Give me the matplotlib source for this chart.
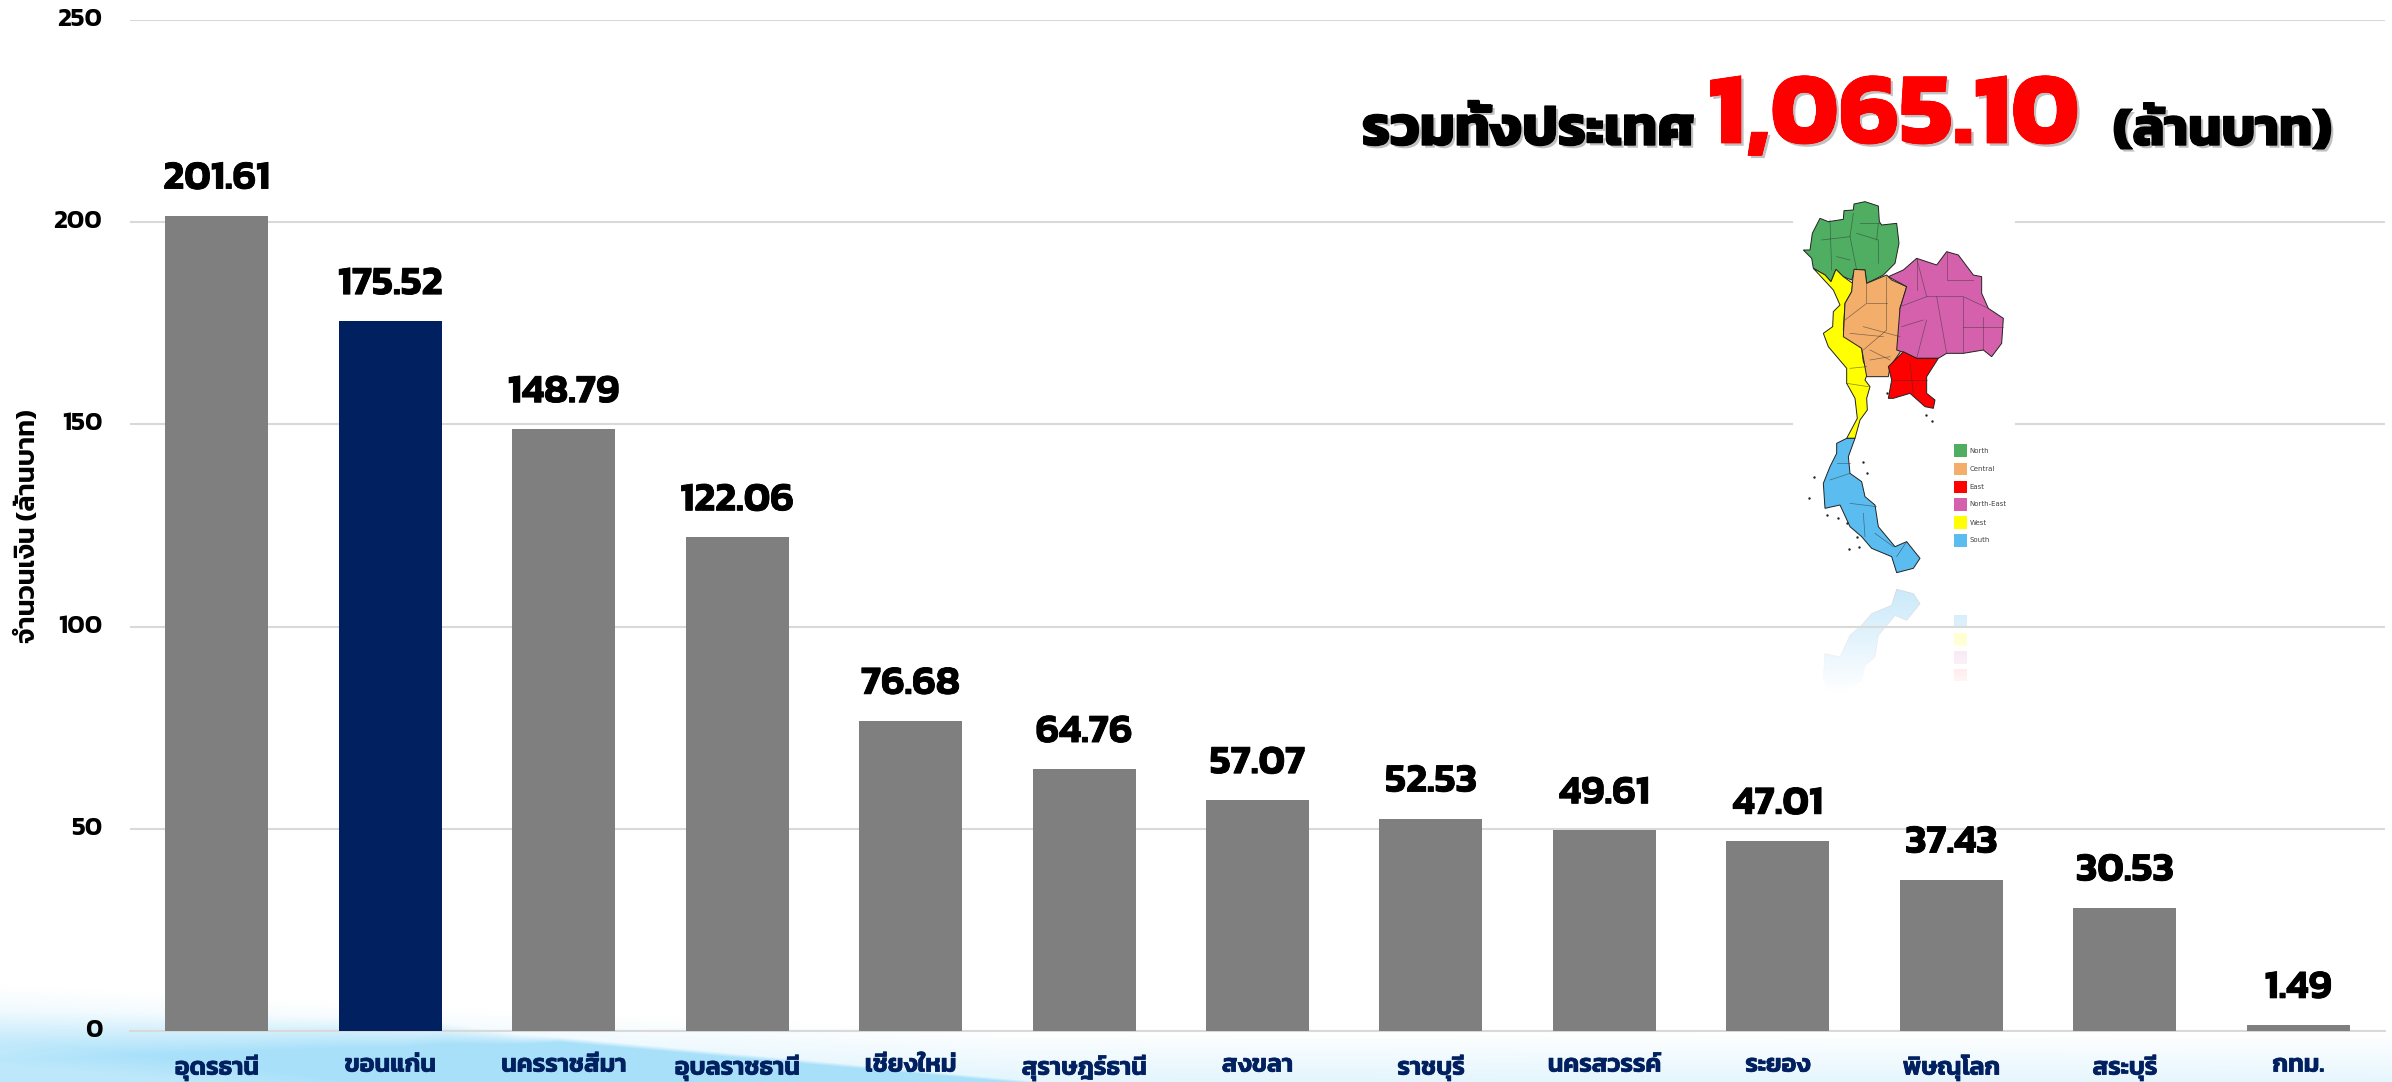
import numpy as np
import matplotlib
matplotlib.use("Agg")
import matplotlib.pyplot as plt
import matplotlib.patheffects as pe
from matplotlib.patches import FancyBboxPatch, Polygon, Rectangle
from matplotlib.transforms import ScaledTranslation

plt.rcParams["font.family"] = ["Kanit", "DejaVu Sans"]

# Chart data: disbursement by province, million baht
provinces = ["อุดรธานี", "ขอนแก่น", "นครราชสีมา", "อุบลราชธานี", "เชียงใหม่", "สุราษฎร์ธานี",
             "สงขลา", "ราชบุรี", "นครสวรรค์", "ระยอง", "พิษณุโลก", "สระบุรี", "กทม."]
amounts = [201.61, 175.52, 148.79, 122.06, 76.68, 64.76, 57.07, 52.53, 49.61, 47.01, 37.43, 30.53, 1.49]
value_labels = ["201.61", "175.52", "148.79", "122.06", "76.68", "64.76", "57.07",
                "52.53", "49.61", "47.01", "37.43", "30.53", "1.49"]
y_ticks = [0, 50, 100, 150, 200, 250]
highlighted = "ขอนแก่น"
y_title = "จำนวนเงิน (ล้านบาท)"
total_prefix = "รวมทั้งประเทศ"
total_value = "1,065.10"
total_unit = "(ล้านบาท)"

W, H = 2392, 1082
GREY, NAVY = "#7f7f7f", "#002060"

fig = plt.figure(figsize=(W / 100, H / 100), dpi=100, facecolor="white")


def px_axes(zorder):
    a = fig.add_axes([0, 0, 1, 1], zorder=zorder)
    a.set_xlim(0, W)
    a.set_ylim(H, 0)
    a.axis("off")
    a.patch.set_visible(False)
    return a


# Page backdrop: pale blue swooshes along the bottom edge
bg = px_axes(0)
xx, yy = np.meshgrid(np.arange(W), np.arange(H))


def band(xs, ys, soft_xs, soft):
    edge = np.interp(xx, xs, ys)
    width = np.interp(xx, soft_xs, soft)
    return np.clip((yy - edge) / width, 0, 1)


pale = 0.30 * band([0, 500, 1000, 2392], [985, 1010, 1030, 1034], [0, 2392], [45, 50])
wedge = band([0, 333, 443, 520, 1040, 1060], [1000, 1013, 1020, 1032, 1080, 1084],
             [0, 400, 560, 1060], [60, 30, 6, 4])
tint = np.maximum(pale, wedge)
streak = 0.25 * band([0, 220, 420], [1040, 1062, 1090], [0, 420], [24, 24])
tint = np.clip(tint - streak, 0, 1)
sky = np.array([0.66, 0.88, 0.98])
img = 1 - tint[..., None] * (1 - sky)
bg.imshow(img, extent=(0, W, H, 0), aspect="auto", zorder=0, interpolation="bilinear")
bg.set_xlim(0, W)
bg.set_ylim(H, 0)

# Bars, gridlines and axis labels
ax = fig.add_axes([130 / W, 1 - 1031 / H, (2385 - 130) / W, (1031 - 20) / H], zorder=1)
ax.patch.set_visible(False)
positions = np.arange(len(provinces))
colors = [NAVY if p == highlighted else GREY for p in provinces]
ax.bar(positions, amounts, width=0.594, color=colors, zorder=3)
ax.set_xlim(-0.5, len(provinces) - 0.5)
ax.set_ylim(0, 250)
ax.set_yticks(y_ticks)
ax.set_xticks(positions, provinces)
ax.grid(axis="y", color="#d9d9d9", lw=1.5, zorder=0)
ax.set_axisbelow(True)
for s in ["top", "right", "left"]:
    ax.spines[s].set_visible(False)
ax.spines["bottom"].set_color("#d9d9d9")
ax.spines["bottom"].set_linewidth(1.5)
ax.tick_params(axis="both", length=0)
ax.tick_params(axis="y", pad=20)
ax.tick_params(axis="x", pad=17)
nudge_up = ScaledTranslation(0, 3 / 100, fig.dpi_scale_trans)
for t in ax.get_yticklabels():
    t.set_fontsize(19)
    t.set_fontweight(600)
    t.set_color("black")
    t.set_transform(t.get_transform() + nudge_up)
for t in ax.get_xticklabels():
    t.set_fontsize(18)
    t.set_fontweight(600)
    t.set_color(NAVY)
    t.set_path_effects([pe.withStroke(linewidth=0.5, foreground=NAVY)])
fig.text(29 / W, 1 - 526 / H, y_title, rotation=90, ha="center", va="center",
         fontsize=19.5, fontweight=600, color="black")
for x, v, lab in zip(positions, amounts, value_labels):
    ax.annotate(lab, (x, v), xytext=(0, 19.5), textcoords="offset points", ha="center",
                va="baseline", fontsize=29, fontweight=600, color="black", zorder=5,
                path_effects=[pe.withStroke(linewidth=0.6, foreground="black")])

# Headline total with a soft drop shadow
shadow = [pe.withSimplePatchShadow(offset=(2, -2), shadow_rgbFace="#666666", alpha=0.4), pe.Normal()]
stroke_k = shadow + [pe.withStroke(linewidth=1.0, foreground="black")]
stroke_r = shadow + [pe.withStroke(linewidth=0.6, foreground="#ff0000")]
base_y = 1 - 145 / H
fig.text(1362 / W, base_y, total_prefix, ha="left", va="baseline", fontsize=40,
         fontweight=700, color="black", path_effects=stroke_k, zorder=5)
fig.text(1708 / W, 1 - 143 / H, total_value, ha="left", va="baseline", fontsize=74,
         fontweight=700, color="#ff0000", path_effects=stroke_r, zorder=5)
fig.text(2113 / W, base_y, total_unit, ha="left", va="baseline", fontsize=38,
         fontweight=700, color="black", path_effects=stroke_k, zorder=5)

# Inset regional map, outlined in a 300x520 local grid scaled by three
regions = {
    "#4fae62": [(160, 210), (180, 210), (187, 160), (210, 115), (235, 125), (280, 118), (282, 92),
                (310, 90), (312, 72), (345, 65), (385, 78), (388, 125), (395, 135), (440, 130),
                (447, 190), (435, 250), (400, 285), (350, 310), (345, 270), (315, 268), (305, 300),
                (280, 290), (258, 268), (243, 305), (225, 285), (190, 265), (185, 235)],
    "#ffff00": [(190, 265), (225, 285), (243, 305), (258, 268), (280, 290), (308, 310), (305, 335),
                (285, 370), (280, 450), (335, 505), (340, 545), (355, 575), (345, 600), (360, 620),
                (350, 655), (352, 690), (330, 720), (315, 775), (290, 775), (322, 715), (315, 655),
                (290, 610), (290, 565), (235, 500), (220, 460), (248, 440), (250, 395), (270, 375),
                (250, 330)],
    "#f4ae6b": [(312, 268), (345, 270), (350, 310), (410, 285), (425, 300), (470, 320), (450, 385),
                (455, 510), (420, 560), (415, 590), (350, 590), (335, 505), (280, 470), (285, 370),
                (305, 335), (308, 300)],
    "#d561ad": [(415, 290), (460, 270), (500, 235), (560, 255), (590, 215), (625, 225), (670, 285),
                (695, 290), (695, 340), (715, 385), (760, 415), (755, 490), (725, 530), (700, 510),
                (640, 520), (590, 520), (565, 535), (500, 535), (455, 515), (440, 510), (450, 385),
                (470, 320)],
    "#ff0000": [(460, 515), (500, 535), (565, 535), (530, 590), (530, 640), (555, 660), (550, 685),
                (525, 680), (480, 640), (430, 655), (415, 655), (425, 600), (415, 560)],
    "#5bbcf0": [(290, 775), (315, 775), (295, 830), (300, 880), (335, 905), (345, 950), (375, 975),
                (385, 1040), (435, 1100), (470, 1085), (510, 1135), (490, 1165), (440, 1178),
                (425, 1130), (365, 1105), (335, 1070), (300, 1040), (270, 975), (225, 985),
                (220, 910), (240, 860), (260, 820), (260, 790)],
}
borders = [
    [(215, 180), (300, 170), (310, 100)], [(300, 170), (320, 270)], [(320, 160), (385, 180), (385, 250)],
    [(240, 120), (245, 270)], [(385, 130), (380, 180)], [(330, 130), (390, 130)], [(260, 230), (300, 240)],
    [(350, 310), (350, 370), (285, 420)], [(410, 290), (410, 450), (340, 510)], [(340, 440), (450, 470)],
    [(360, 510), (420, 540)], [(350, 370), (410, 370)], [(300, 460), (400, 470)], [(360, 540), (420, 530)],
    [(500, 235), (530, 350), (450, 380)], [(520, 420), (455, 440)], [(530, 350), (640, 350), (715, 385)],
    [(590, 215), (590, 300), (670, 300)], [(560, 350), (590, 520)], [(640, 350), (640, 520)],
    [(700, 410), (700, 510)], [(500, 535), (530, 420)], [(500, 235), (500, 330)], [(640, 440), (760, 440)],
    [(430, 600), (530, 600)], [(480, 550), (490, 640)], [(300, 565), (350, 560)], [(290, 610), (355, 620)],
    [(300, 880), (240, 900)], [(300, 970), (380, 980)], [(340, 1000), (345, 1070)],
    [(430, 1100), (375, 1060)], [(470, 1085), (440, 1130)], [(260, 850), (300, 850)],
]
islands = [(192, 892), (178, 955), (230, 1005), (296, 1108), (328, 1100), (545, 722), (412, 640),
           (528, 705), (340, 845), (350, 880), (265, 1015), (290, 1030), (320, 1070)]
legend_items = [("North", "#4fae62", 792, 832), ("Central", "#f4ae6b", 848, 885),
                ("East", "#ff0000", 902, 940), ("North-East", "#d561ad", 953, 992),
                ("West", "#ffff00", 1008, 1048), ("South", "#5bbcf0", 1062, 1100)]


def to_px(points, mirror=False):
    return [(1750 + x / 3, 180 + ((2406 - y) if mirror else y) / 3) for x, y in points]


# Faded mirror image sits under the gridlines
south = regions["#5bbcf0"]
bg.add_patch(Polygon(to_px(south, True), closed=True, fc="#5bbcf0", ec="#777777", lw=0.5, zorder=2))
for _, col, y0, y1 in legend_items[2:]:
    bg.add_patch(Polygon(to_px([(612, y0), (652, y0), (652, y1), (612, y1)], True), closed=True,
                         fc=col, ec="none", zorder=2))
fade = np.ones((80, 1, 4))
fade[:, 0, 3] = np.clip(np.linspace(0.66, 1.12, 80), 0, 1)
bg.imshow(fade, extent=(1793, 2015, 730, 582), aspect="auto", zorder=3, interpolation="bilinear")
bg.set_xlim(0, W)
bg.set_ylim(H, 0)

# Map panel itself sits above the gridlines
over = px_axes(2)
over.add_patch(FancyBboxPatch((1801, 201), 206, 371, boxstyle="round,pad=0,rounding_size=8",
                              fc="white", ec="white", lw=11.5, zorder=1))
for col, pts in regions.items():
    over.add_patch(Polygon(to_px(pts), closed=True, fc=col, ec="#222222", lw=0.7, zorder=2))
for line in borders:
    xs, ys = zip(*to_px(line))
    over.plot(xs, ys, color="#33333399", lw=0.5, zorder=3)
ix, iy = zip(*to_px(islands))
over.scatter(ix, iy, s=3, color="#222222", linewidths=0, zorder=3)
for name, col, y0, y1 in legend_items:
    x0, yt = to_px([(612, y0)])[0]
    x1, yb = to_px([(652, y1)])[0]
    over.add_patch(Rectangle((x0, yt), x1 - x0, yb - yt, fc=col, ec="none", zorder=2))
    over.text(x1 + 2, (yt + yb) / 2, name, fontsize=5, color="#444444", va="center", ha="left",
              family=["DejaVu Sans"], zorder=3)

fig.savefig("out.png", dpi=100)
